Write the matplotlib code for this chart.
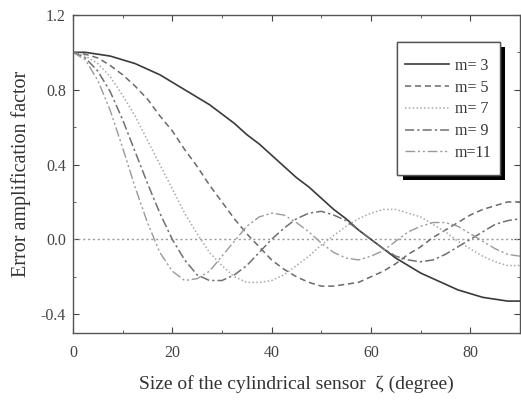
import matplotlib
matplotlib.use('Agg')
import matplotlib.pyplot as plt
from matplotlib import patheffects
from matplotlib.patches import Rectangle
from matplotlib.ticker import MultipleLocator

plt.rcParams['font.family'] = ['Liberation Serif', 'DejaVu Serif']

# sensor size (degree)
zeta = [0, 2.5, 5, 7.5, 10, 12.5, 15, 17.5, 20, 22.5, 25, 27.5, 30, 32.5, 35, 37.5,
        40, 42.5, 45, 47.5, 50, 52.5, 55, 57.5, 60, 62.5, 65, 67.5, 70, 72.5, 75,
        77.5, 80, 82.5, 85, 87.5, 90]

m3 = [1.00, 1.00, 0.99, 0.98, 0.96, 0.94, 0.91, 0.88, 0.84, 0.80, 0.76, 0.72, 0.67,
      0.62, 0.56, 0.51, 0.45, 0.39, 0.33, 0.28, 0.22, 0.16, 0.11, 0.05, 0.00, -0.05,
      -0.10, -0.14, -0.18, -0.21, -0.24, -0.27, -0.29, -0.31, -0.32, -0.33, -0.33]
m5 = [1.00, 0.99, 0.97, 0.93, 0.88, 0.82, 0.75, 0.66, 0.58, 0.48, 0.39, 0.29, 0.20,
      0.11, 0.03, -0.04, -0.11, -0.16, -0.20, -0.23, -0.25, -0.25, -0.24, -0.23, -0.20,
      -0.17, -0.13, -0.08, -0.04, 0.01, 0.05, 0.09, 0.13, 0.16, 0.18, 0.20, 0.20]
m7 = [1.00, 0.98, 0.94, 0.87, 0.77, 0.66, 0.53, 0.40, 0.27, 0.14, 0.03, -0.07, -0.14,
      -0.20, -0.23, -0.23, -0.22, -0.19, -0.14, -0.09, -0.03, 0.02, 0.07, 0.11, 0.14,
      0.16, 0.16, 0.14, 0.12, 0.08, 0.04, -0.01, -0.05, -0.09, -0.12, -0.14, -0.14]
m9 = [1.00, 0.97, 0.90, 0.79, 0.64, 0.47, 0.30, 0.14, 0.00, -0.11, -0.19, -0.22, -0.22,
      -0.19, -0.14, -0.07, 0.00, 0.06, 0.11, 0.14, 0.15, 0.13, 0.10, 0.05, 0.00, -0.05,
      -0.09, -0.11, -0.12, -0.11, -0.08, -0.04, 0.00, 0.04, 0.08, 0.10, 0.11]
m11 = [1.00, 0.96, 0.85, 0.69, 0.49, 0.28, 0.09, -0.07, -0.17, -0.22, -0.21, -0.17,
       -0.09, -0.01, 0.07, 0.12, 0.14, 0.13, 0.09, 0.04, -0.02, -0.07, -0.10, -0.11,
       -0.09, -0.06, -0.01, 0.04, 0.07, 0.09, 0.09, 0.07, 0.03, -0.01, -0.05, -0.08, -0.09]

labels = ['m= 3', 'm= 5', 'm= 7', 'm= 9', 'm=11']
series = [m3, m5, m7, m9, m11]
styles = ['-', (0, (4, 2.5)), (0, (1, 1.5)), (0, (6, 2, 1.5, 2)), (0, (7, 2, 1.5, 2, 1.5, 2))]
colors = ['#3a3a3a', '#6a6a6a', '#a8a8a8', '#707070', '#9a9a9a']
widths = [1.2, 1.1, 1.1, 1.1, 1.0]

fig = plt.figure(figsize=(5.21, 4.03), dpi=100)
ax = fig.add_axes([0.140, 0.174, 0.858, 0.789])

ax.axhline(0, color='#9a9a9a', lw=1.0, ls=(0, (1.5, 2)))
for y, lab, ls, c, w in zip(series, labels, styles, colors, widths):
    ax.plot(zeta, y, ls=ls, color=c, lw=w, label=lab)

ax.set_xlim(0, 90)
ax.set_ylim(-0.5, 1.2)
ax.xaxis.set_major_locator(MultipleLocator(20))
ax.xaxis.set_minor_locator(MultipleLocator(10))
ax.yaxis.set_major_locator(MultipleLocator(0.4))
ax.yaxis.set_minor_locator(MultipleLocator(0.2))
ax.yaxis.set_major_formatter(lambda v, p: '%.1f' % v)
ax.tick_params(which='both', direction='in', top=True, right=True, labelsize=11.5,
               colors='#444444')
ax.tick_params(which='major', length=4)
ax.tick_params(which='minor', length=2.5)
ax.tick_params(axis='x', pad=9)
ax.tick_params(axis='y', pad=5)
for sp in ax.spines.values():
    sp.set_color('#555555')
    sp.set_linewidth(1.0)

ax.set_xlabel('Size of the cylindrical sensor  ζ (degree)', fontsize=14,
              color='#333333', labelpad=10)
ax.set_ylabel('Error amplification factor', fontsize=14.5, color='#333333', labelpad=7)

# legend box with a solid black shadow
box = Rectangle((0.725, 0.497), 0.230, 0.418, transform=ax.transAxes, facecolor='white',
                edgecolor='#555555', lw=1.0, zorder=5)
box.set_path_effects([
    patheffects.withSimplePatchShadow(offset=(4, -4), shadow_rgbFace='black', alpha=1.0),
    patheffects.Normal()])
ax.add_patch(box)
leg = ax.legend(loc='center', bbox_to_anchor=(0.840, 0.703), fontsize=11.5,
                frameon=False, handlelength=2.75, handletextpad=0.35,
                labelspacing=0.36, borderpad=0, borderaxespad=0)
leg.set_zorder(6)
for t in leg.get_texts():
    t.set_color('#333333')

fig.savefig('out.png', dpi=100)
